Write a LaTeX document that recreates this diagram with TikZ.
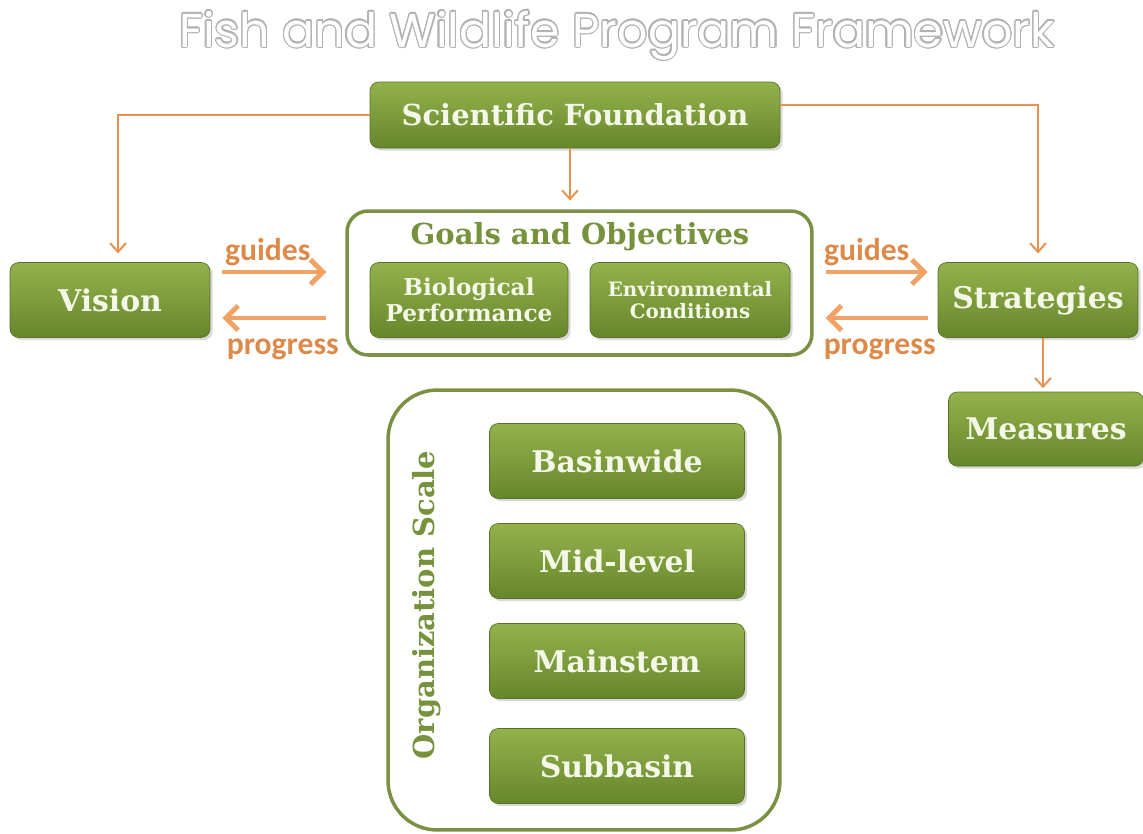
\documentclass[tikz,border=0pt]{standalone}
\usepackage{fontspec}
\setmainfont{DejaVu Serif}
\newfontfamily\labelfont{Carlito}
\newfontfamily\titlefont{Poppins}
\usepackage[copies]{contour}
\contourlength{0.7pt}
\usetikzlibrary{arrows.meta,shadows,positioning}

\definecolor{boxtop}{HTML}{93B24C}
\definecolor{boxbottom}{HTML}{66862B}
\definecolor{framegreen}{HTML}{7A9143}
\definecolor{textgreen}{HTML}{76923C}
\definecolor{arroworange}{HTML}{E8904D}
\definecolor{bigorange}{HTML}{F0A267}
\definecolor{boxtext}{HTML}{F5F8E8}

\begin{document}
\begin{tikzpicture}[x=0.02cm,y=-0.02cm,
	green_box/.style={rectangle,rounded corners=5pt,top color=boxtop,bottom color=boxbottom,draw=boxbottom!85!black,
		drop shadow={opacity=0.3,shadow xshift=1.5pt,shadow yshift=-1.5pt},
		text=boxtext,font=\bfseries\fontsize{17}{19}\selectfont,align=center,
		minimum width=4cm,minimum height=1.5cm,inner sep=2pt},
	frame_box/.style={rectangle,draw=framegreen,line width=2pt,fill=white},
	thin_arrow/.style={draw=arroworange,line width=1.1pt,-{Straight Barb[length=5pt,width=9pt]},shorten >=5pt},
	big_arrow/.style={draw=bigorange,line width=2.8pt,-{Straight Barb[length=7pt,width=14pt]}},
	arrow_label/.style={text=arroworange!95!black,font=\labelfont\bfseries\fontsize{18}{20}\selectfont}]

	\useasboundingbox (0,0) rectangle (1143,833);

	% title
	\node (title) at (617,36) {\titlefont\fontsize{27}{30}\selectfont\contour{black!30}{\textcolor{white}{Fish and Wildlife Program Framework}}};

	% containers
	\node[frame_box,rounded corners=12pt,minimum width=9.3cm,minimum height=2.88cm] (goals) at (579.5,283) {};
	\node[frame_box,rounded corners=28pt,minimum width=7.84cm,minimum height=8.8cm] (scale) at (584,610) {};
	\node[text=textgreen,font=\bfseries\fontsize{16.5}{18}\selectfont] (goals_title) at (580,237) {Goals and Objectives};
	\node[text=textgreen,font=\bfseries\fontsize{16.5}{18}\selectfont,rotate=90] (scale_title) at (427,605) {Organization Scale};

	% boxes
	\node[green_box,minimum width=8.2cm,minimum height=1.32cm,font=\bfseries\fontsize{16.5}{18}\selectfont] (found) at (575,115) {Scientific Foundation};
	\node[green_box] (vision) at (110,300) {Vision};
	\node[green_box,minimum width=3.96cm,font=\bfseries\fontsize{13.2}{14.5}\selectfont] (bio) at (469,300) {Biological\\Performance};
	\node[green_box,font=\bfseries\fontsize{11.3}{12.5}\selectfont] (env) at (690,300) {Environmental\\Conditions};
	\node[green_box] (strat) at (1038,300) {Strategies};
	\node[green_box,minimum width=3.9cm,minimum height=1.48cm] (meas) at (1046,429) {Measures};

	\node[green_box,minimum width=5.1cm] (basin) at (617,461) {Basinwide};
	\node[green_box,minimum width=5.1cm] (mid) at (617,561) {Mid-level};
	\node[green_box,minimum width=5.1cm] (main) at (617,661) {Mainstem};
	\node[green_box,minimum width=5.1cm] (sub) at (617,766) {Subbasin};

	% thin connectors
	\draw[thin_arrow] (found.west) -| ([xshift=0.16cm]vision.north);
	\draw[thin_arrow] ([yshift=0.2cm]found.east) -| (strat.north);
	\draw[thin_arrow] ([xshift=-0.1cm]found.south) -- ([xshift=-0.1cm]found.south |- goals.north);
	\draw[thin_arrow,shorten >=2pt] ([xshift=0.1cm]strat.south) -- ([xshift=0.1cm]strat.south |- meas.north);

	% guides / progress
	\draw[big_arrow,shorten <=0.24cm,shorten >=0.38cm] ([yshift=0.56cm]vision.east) -- ([yshift=0.56cm]vision.east -| goals.west)
		node[midway,above=-1pt,xshift=-0.2cm,arrow_label] (guides_l) {guides};
	\draw[big_arrow,shorten <=0.38cm,shorten >=0.24cm] ([yshift=-0.36cm]vision.east -| goals.west) -- ([yshift=-0.36cm]vision.east)
		node[midway,below=7pt,xshift=0.1cm,arrow_label] (progress_l) {progress};
	\draw[big_arrow,shorten <=0.24cm,shorten >=0.2cm] ([yshift=0.56cm]strat.west -| goals.east) -- ([yshift=0.56cm]strat.west)
		node[midway,above=-1pt,xshift=-0.18cm,arrow_label] (guides_r) {guides};
	\draw[big_arrow,shorten <=0.2cm,shorten >=0.24cm] ([yshift=-0.36cm]strat.west) -- ([yshift=-0.36cm]strat.west -| goals.east)
		node[midway,below=7pt,xshift=0.08cm,arrow_label] (progress_r) {progress};
\end{tikzpicture}
\end{document}
